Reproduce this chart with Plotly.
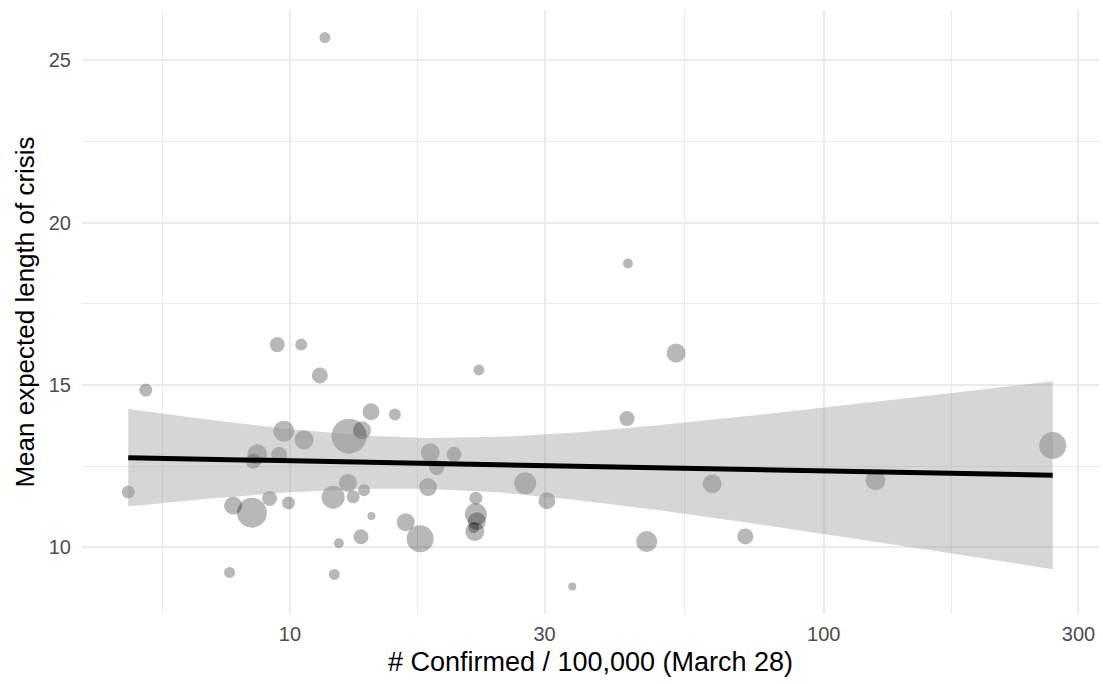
import plotly.graph_objects as go

# ---- data ----
confirmed = [5.37, 4.98, 9.47, 10.5, 11.38, 9.74, 10.63, 8.69, 8.54, 9.55,
             12.91, 13.65, 14.19, 15.73, 22.6, 18.32, 20.3, 18.84, 18.15, 12.84,
             12.05, 13.14, 13.77, 9.16, 7.83, 8.49, 9.94, 14.22, 16.48, 17.54,
             13.59, 12.35, 7.71, 12.11, 22.3, 22.3, 22.4, 22.1, 22.2, 52.9,
             42.8, 27.6, 30.3, 61.8, 46.6, 71.3, 33.8, 42.97, 11.63, 125.0,
             268.5]
mean_length = [14.84, 11.70, 16.24, 16.24, 15.29, 13.57, 13.31, 12.86, 12.65, 12.84,
               13.42, 13.60, 14.17, 14.09, 15.46, 12.91, 12.86, 12.45, 11.85, 11.98,
               11.54, 11.55, 11.75, 11.50, 11.28, 11.06, 11.36, 10.96, 10.77, 10.26,
               10.32, 10.12, 9.22, 9.16, 11.51, 11.01, 10.80, 10.60, 10.48, 15.98,
               13.96, 11.97, 11.43, 11.95, 10.17, 10.33, 8.79, 18.74, 25.70, 12.06,
               13.13]
point_weight = [13, 13, 15, 12, 16, 21, 19, 20, 15, 16,
                35, 18, 17, 12, 11, 19, 15, 15, 18, 18,
                23, 13, 12, 15, 18, 30, 13, 8, 18, 27,
                15, 10, 11, 11, 13, 22, 18, 11, 19, 19,
                15, 22, 17, 19, 21, 16, 8, 10, 11, 20,
                27]

# fitted line and confidence band
fit_x = [4.98, 268.5]
fit_y = [12.755, 12.215]
band_x = [4.98, 7, 10, 14, 18, 25, 35, 50, 75, 110, 160, 268.5]
band_lo = [11.25, 11.49, 11.69, 11.80, 11.80, 11.68, 11.44, 11.12, 10.71, 10.31, 9.90, 9.32]
band_hi = [14.26, 13.93, 13.63, 13.43, 13.36, 13.40, 13.54, 13.77, 14.07, 14.37, 14.68, 15.11]

x_ticks = [10, 30, 100, 300]
x_minor = [5.774, 17.32, 54.77, 173.2]
y_ticks = [10, 15, 20, 25]
y_minor = [12.5, 17.5, 22.5]

FONT = "Liberation Sans, Arial, sans-serif"

fig = go.Figure()

fig.add_trace(go.Scatter(
    x=confirmed, y=mean_length, mode="markers",
    marker=dict(size=point_weight, color="rgba(0,0,0,0.4)", line=dict(width=0)),
    showlegend=False, hoverinfo="skip"))

fig.add_trace(go.Scatter(
    x=band_x + band_x[::-1], y=band_hi + band_lo[::-1],
    mode="lines", fill="toself", fillcolor="rgba(153,153,153,0.4)",
    line=dict(width=0), showlegend=False, hoverinfo="skip"))

fig.add_trace(go.Scatter(
    x=fit_x, y=fit_y, mode="lines",
    line=dict(color="black", width=5), showlegend=False, hoverinfo="skip"))

fig.update_layout(
    width=1103, height=684,
    margin=dict(l=82, r=4, t=10, b=70),
    paper_bgcolor="white", plot_bgcolor="white",
    font=dict(family=FONT, color="#4D4D4D", size=20),
    showlegend=False,
)

fig.update_xaxes(
    type="log", range=[0.6106, 2.5156], automargin=False,
    tickvals=x_ticks, ticktext=[str(v) for v in x_ticks],
    showgrid=True, gridcolor="#EBEBEB", gridwidth=2,
    minor=dict(tickvals=x_minor, showgrid=True, gridcolor="#EBEBEB", gridwidth=1.2, ticks=""),
    zeroline=False, showline=False, ticks="", ticklen=0, ticklabelstandoff=6,
    tickfont=dict(size=20, color="#4D4D4D"),
    title=dict(text="# Confirmed / 100,000 (March 28)",
               font=dict(size=27, color="black"), standoff=8),
)
fig.update_yaxes(
    range=[7.94, 26.55], automargin=False,
    tickvals=y_ticks, ticktext=[str(v) for v in y_ticks],
    showgrid=True, gridcolor="#EBEBEB", gridwidth=2,
    minor=dict(tickvals=y_minor, showgrid=True, gridcolor="#EBEBEB", gridwidth=1.2, ticks=""),
    zeroline=False, showline=False, ticks="", ticklen=0, ticklabelstandoff=10,
    tickfont=dict(size=20, color="#4D4D4D"),
    title=dict(text="Mean expected length of crisis",
               font=dict(size=26, color="black"), standoff=6),
)

fig.write_html("out.html", config={"displayModeBar": False},
               post_script="document.body.style.margin='0';document.body.style.overflow='hidden';")
